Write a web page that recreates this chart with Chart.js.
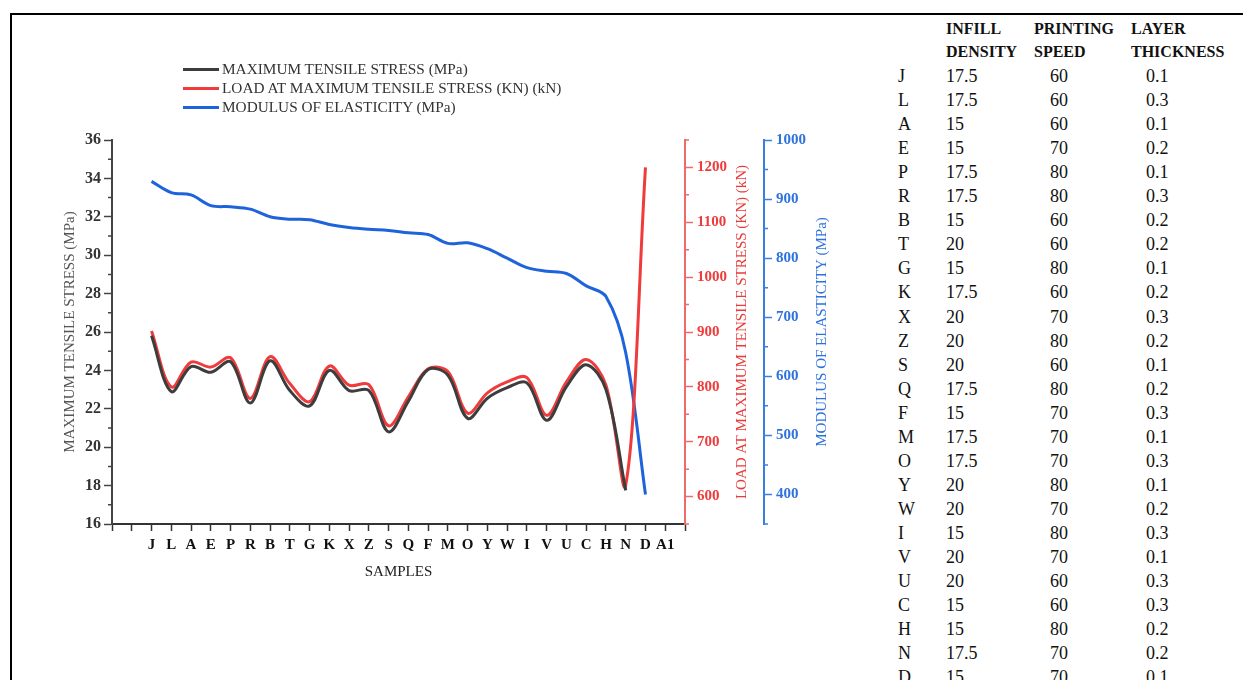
<!DOCTYPE html>
<html>
<head>
<meta charset="utf-8">
<script src="https://cdn.jsdelivr.net/npm/chart.js@4.4.1/dist/chart.umd.min.js"></script>
<style>
  html, body { margin: 0; padding: 0; background: #fff; }
  body { width: 1243px; height: 680px; overflow: hidden; position: relative;
         font-family: 'Liberation Serif', 'Times New Roman', serif; color: #111; }
  #frame { position: absolute; left: 10px; top: 13px; width: 1300px; height: 700px;
           border-top: 2px solid #000; border-left: 2px solid #000; }
  #chart { position: absolute; left: 20px; top: 20px; }
  #legend { position: absolute; left: 183px; top: 59px; font-size: 15.3px; color: #333; }
  #legend .item { height: 19px; line-height: 19px; white-space: nowrap; }
  #legend .swatch { display: inline-block; width: 36px; height: 3px; vertical-align: middle;
                    margin-right: 3px; position: relative; top: -1px; }
  #params { position: absolute; left: 0; top: 0; }
  #params .cell { position: absolute; white-space: nowrap; }
  #params .head { font-weight: bold; font-size: 16px; }
  #params .body { font-size: 18px; }
</style>
</head>
<body>
<div id="frame"></div>
<canvas id="chart" width="840" height="580"></canvas>
<div id="legend"></div>
<div id="params"></div>
<script>
// Sample codes along the x axis, in plotted order
const SAMPLES = ['J','L','A','E','P','R','B','T','G','K','X','Z','S','Q','F','M','O','Y','W','I','V','U','C','H','N','D','A1'];

// Maximum tensile stress (MPa)
const TENSILE_STRESS = [25.8, 22.9, 24.2, 23.9, 24.45, 22.3, 24.5, 22.95, 22.15, 24.0, 22.95, 22.95, 20.8,
                        22.4, 24.05, 23.75, 21.5, 22.55, 23.1, 23.35, 21.4, 23.15, 24.3, 23.0, 17.75, null, null];

// Load at maximum tensile stress (kN)
const LOAD = [902, 800, 845, 836, 853, 779, 855, 806, 773, 838, 803, 804, 729,
              782, 833, 828, 752, 789, 809, 817, 748, 809, 850, 803, 621, 1200, null];

// Modulus of elasticity (MPa)
const MODULUS = [930, 911, 907, 889, 887, 883, 870, 866, 865, 857, 852, 849, 847,
                 843, 840, 825, 826, 816, 800, 784, 778, 774, 753, 735, 640, 400, null];

// Axis tick values
const STRESS_TICKS = [16, 18, 20, 22, 24, 26, 28, 30, 32, 34, 36];
const LOAD_TICKS = [600, 700, 800, 900, 1000, 1100, 1200];
const MODULUS_TICKS = [400, 500, 600, 700, 800, 900, 1000];

// Printing parameters per sample
const PARAM_SAMPLES = ['J','L','A','E','P','R','B','T','G','K','X','Z','S','Q','F','M','O','Y','W','I','V','U','C','H','N','D'];
const INFILL_DENSITY = ['17.5','17.5','15','15','17.5','17.5','15','20','15','17.5','20','20','20','17.5','15','17.5','17.5','20','20','15','20','20','15','15','17.5','15'];
const PRINTING_SPEED = ['60','60','60','70','80','80','60','60','80','60','70','80','60','80','70','70','70','80','70','80','70','60','60','80','70','70'];
const LAYER_THICKNESS = ['0.1','0.3','0.1','0.2','0.1','0.3','0.2','0.2','0.1','0.2','0.3','0.2','0.1','0.2','0.3','0.1','0.3','0.1','0.2','0.3','0.1','0.3','0.3','0.2','0.2','0.1'];

const SERIF = "'Liberation Serif', 'Times New Roman', serif";
const X_OFFSET = 2;   // first sample sits two steps in from the axis origin
const X_MAX = 29;

const toPoints = vals => vals.map((v, i) => ({ x: i + X_OFFSET, y: v }));

// Short ticks between the labelled ones on the value axes
const minorTicks = {
  id: 'minorTicks',
  afterDraw(chart, args, opts) {
    const ctx = chart.ctx;
    for (const [id, cfg] of Object.entries(opts.axes || {})) {
      const s = chart.scales[id];
      if (!s) continue;
      const left = s.position === 'left';
      const x0 = left ? s.right : s.left;
      const x1 = left ? x0 - cfg.len : x0 + cfg.len;
      ctx.save();
      ctx.strokeStyle = cfg.color;
      ctx.lineWidth = cfg.width;
      ctx.beginPath();
      for (let v = cfg.from; v <= cfg.to + 1e-9; v += cfg.step) {
        const y = s.getPixelForValue(v);
        ctx.moveTo(x0, y);
        ctx.lineTo(x1, y);
      }
      ctx.stroke();
      ctx.restore();
    }
  }
};

// Titles for the right-hand axes, reading bottom to top
const sideTitles = {
  id: 'sideTitles',
  afterDraw(chart, args, opts) {
    const ctx = chart.ctx;
    for (const [id, cfg] of Object.entries(opts.axes || {})) {
      const s = chart.scales[id];
      if (!s) continue;
      ctx.save();
      ctx.translate(s.left + cfg.offset, (s.top + s.bottom) / 2);
      ctx.rotate(-Math.PI / 2);
      ctx.font = `${cfg.size}px ${SERIF}`;
      ctx.fillStyle = cfg.color;
      ctx.textAlign = 'center';
      ctx.textBaseline = 'middle';
      ctx.fillText(cfg.text, 0, 0);
      ctx.restore();
    }
  }
};

const setTicks = values => scale => { scale.ticks = values.map(v => ({ value: v })); };
const plainNumber = v => String(v);

const tickFont = { family: SERIF, size: 15, weight: 'bold' };

const chart = new Chart(document.getElementById('chart'), {
  type: 'line',
  data: {
    datasets: [
      {
        label: 'MAXIMUM TENSILE STRESS (MPa)',
        data: toPoints(TENSILE_STRESS),
        yAxisID: 'y',
        borderColor: '#3d3d3d',
        borderWidth: 3,
        tension: 0.35,
        pointRadius: 0,
        spanGaps: false
      },
      {
        label: 'LOAD AT MAXIMUM TENSILE STRESS (KN) (kN)',
        data: toPoints(LOAD),
        yAxisID: 'yLoad',
        borderColor: '#ef3b3b',
        borderWidth: 3,
        tension: 0.35,
        pointRadius: 0
      },
      {
        label: 'MODULUS OF ELASTICITY (MPa)',
        data: toPoints(MODULUS),
        yAxisID: 'yMod',
        borderColor: '#1d63dc',
        borderWidth: 3,
        tension: 0.35,
        pointRadius: 0
      }
    ]
  },
  options: {
    responsive: false,
    animation: false,
    layout: { padding: { left: 37, top: 120, right: 16, bottom: 15 } },
    plugins: {
      legend: { display: false },
      tooltip: { enabled: false },
      minorTicks: {
        axes: {
          y: { from: 17, to: 35, step: 2, len: 4, color: '#444', width: 1.5 },
          yLoad: { from: 550, to: 1250, step: 100, len: 4, color: '#f06a6a', width: 1.5 },
          yMod: { from: 350, to: 950, step: 100, len: 4, color: '#3a7fe0', width: 1.5 }
        }
      },
      sideTitles: {
        axes: {
          yLoad: { text: 'LOAD AT MAXIMUM TENSILE STRESS (KN) (kN)', offset: 57, size: 15, color: '#e83c3c' },
          yMod: { text: 'MODULUS OF ELASTICITY (MPa)', offset: 58, size: 15, color: '#2e72dc' }
        }
      }
    },
    scales: {
      x: {
        type: 'linear',
        min: 0,
        max: X_MAX,
        afterBuildTicks: scale => {
          scale.ticks = [];
          for (let i = 0; i <= X_MAX; i++) scale.ticks.push({ value: i });
        },
        ticks: {
          autoSkip: false,
          maxRotation: 0,
          padding: 5,
          font: tickFont,
          color: '#111',
          callback: v => SAMPLES[v - X_OFFSET] ?? ''
        },
        grid: { drawOnChartArea: false, tickLength: 7, tickWidth: 1.5, color: '#333' },
        border: { color: '#333', width: 2 },
        title: { display: true, text: 'SAMPLES', color: '#222', font: { family: SERIF, size: 15 } },
        afterFit: scale => { scale.height = 61; }
      },
      y: {
        position: 'left',
        min: 16,
        max: 36,
        afterBuildTicks: setTicks(STRESS_TICKS),
        ticks: { font: { family: SERIF, size: 16, weight: 'bold' }, color: '#333', padding: 3, callback: plainNumber },
        grid: { drawOnChartArea: false, tickLength: 8, tickWidth: 1.5, color: '#444' },
        border: { color: '#444', width: 2 },
        title: { display: true, text: 'MAXIMUM TENSILE STRESS (MPa)', color: '#555', font: { family: SERIF, size: 15 } },
        afterFit: scale => { scale.width = 55; }
      },
      yLoad: {
        position: 'right',
        min: 550,
        max: 1250,
        afterBuildTicks: setTicks(LOAD_TICKS),
        ticks: { font: tickFont, color: '#ef3b3b', padding: 4, callback: plainNumber },
        grid: { drawOnChartArea: false, tickLength: 8, tickWidth: 1.5, color: '#f06a6a' },
        border: { color: '#f06a6a', width: 2 },
        afterFit: scale => { scale.width = 79; }
      },
      yMod: {
        position: 'right',
        min: 350,
        max: 1000,
        afterBuildTicks: setTicks(MODULUS_TICKS),
        ticks: { font: tickFont, color: '#2e72dc', padding: 4, callback: plainNumber },
        grid: { drawOnChartArea: false, tickLength: 8, tickWidth: 1.5, color: '#3a7fe0' },
        border: { color: '#3a7fe0', width: 2 },
        afterFit: scale => { scale.width = 80; }
      }
    }
  },
  plugins: [minorTicks, sideTitles]
});

// Legend built from the chart's own datasets
const legend = document.getElementById('legend');
chart.data.datasets.forEach(ds => {
  const item = document.createElement('div');
  item.className = 'item';
  const sw = document.createElement('span');
  sw.className = 'swatch';
  sw.style.background = ds.borderColor;
  item.appendChild(sw);
  item.appendChild(document.createTextNode(ds.label));
  legend.appendChild(item);
});

// Printing-parameter table
const params = document.getElementById('params');
const COLS = [898, 946, 1034, 1131];
const VALUE_COLS = [898, 946, 1050, 1146];
function addCell(text, x, yCenter, cls) {
  const d = document.createElement('div');
  d.className = 'cell ' + cls;
  d.textContent = text;
  d.style.left = x + 'px';
  d.style.top = (yCenter - 12) + 'px';
  d.style.lineHeight = '24px';
  params.appendChild(d);
}
[['INFILL', 'PRINTING', 'LAYER'], ['DENSITY', 'SPEED', 'THICKNESS']].forEach((row, r) => {
  row.forEach((t, c) => addCell(t, COLS[c + 1], 29 + r * 23, 'head'));
});
PARAM_SAMPLES.forEach((s, i) => {
  const yc = 76 + i * 24.05;
  addCell(s, VALUE_COLS[0], yc, 'body');
  addCell(INFILL_DENSITY[i], VALUE_COLS[1], yc, 'body');
  addCell(PRINTING_SPEED[i], VALUE_COLS[2], yc, 'body');
  addCell(LAYER_THICKNESS[i], VALUE_COLS[3], yc, 'body');
});
</script>
</body>
</html>
